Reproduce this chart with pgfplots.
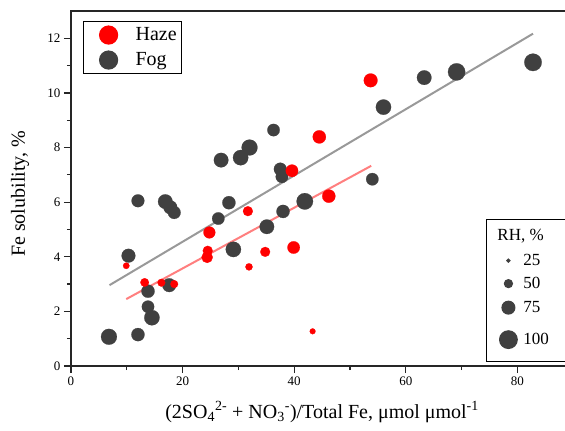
\documentclass[border=0pt]{standalone}
\usepackage{pgfplots}
\usepackage{pgfplotstable}
\pgfplotsset{compat=1.18}
\usepackage{fontspec}
\setmainfont{Liberation Serif}

\definecolor{fogc}{RGB}{64,64,64}
\definecolor{hazec}{RGB}{255,0,0}

% x = (2SO4 + NO3)/Fe, y = Fe solubility (%), rh = relative humidity (%)
\pgfplotstableread{
x y rh
6.8 1.07 92
12.0 1.15 78
10.3 4.04 81
12.0 6.05 76
16.9 6.02 85
17.8 5.81 81
18.5 5.62 76
13.8 2.74 78
17.6 2.96 81
13.8 2.17 74
14.5 1.77 89
26.4 5.40 74
28.3 5.98 78
29.1 4.27 89
35.1 5.10 85
38.0 5.66 78
41.9 6.03 95
36.3 8.64 74
26.9 7.54 85
30.4 7.63 89
32.0 8.00 92
37.5 7.21 76
37.8 6.93 74
54.0 6.84 74
56.0 9.48 89
63.3 10.56 85
69.1 10.77 99
82.8 11.12 100
}\fogdata

\pgfplotstableread{
x y rh
9.9 3.67 43
13.2 3.06 54
16.2 3.05 50
18.5 3.00 50
24.8 4.89 71
24.5 4.22 61
24.4 3.98 68
31.7 5.67 61
31.9 3.63 47
34.8 4.18 61
39.9 4.34 74
39.6 7.15 74
44.5 8.39 78
46.2 6.22 78
53.7 10.46 81
43.3 1.27 40
}\hazedata

\pgfplotsset{
  bubble/.style={scatter, only marks, mark=*, forget plot,
    mark options={draw=#1, fill=#1, line width=0.2pt},
    visualization depends on={\thisrow{rh} \as \rh},
    scatter/@pre marker code/.code={\pgfmathsetmacro\ms{0.097*\rh-1.0}\pgfsetplotmarksize{\ms pt}},
    scatter/@post marker code/.code={}},
  sizekey/.style 2 args={legend image code/.code={
    \path[draw=none, fill=none] (0pt,-#2) rectangle (33pt,#2);
    \fill[fogc] (18pt,0pt) circle[radius=#1];}},
}

\begin{document}
\begin{tikzpicture}
\useasboundingbox (-71pt,-65pt) rectangle (494pt,366pt);
\begin{axis}[
    scale only axis,
    width=502.2pt, height=355pt,
    xmin=0, xmax=90, ymin=0, ymax=13,
    xtick={0,20,...,80}, minor xtick={10,30,50,70},
    ytick={0,2,...,12}, minor ytick={1,3,...,11},
    tick pos=left, tick align=outside,
    major tick length=7pt, minor tick length=4pt,
    axis line style={line width=1.2pt, draw=black!85},
    tick style={line width=1.2pt, black!85},
    ticklabel style={font=\fontsize{13}{15}\selectfont},
    /pgf/number format/assume math mode=true,
    label style={font=\fontsize{20}{24}\selectfont},
    xlabel={(2SO\textsubscript{4}\textsuperscript{2-} + NO\textsubscript{3}\textsuperscript{-})/Total Fe, μmol μmol\textsuperscript{-1}},
    ylabel={Fe solubility, \%},
    xlabel style={at={(axis description cs:0.5,-0.13)}, anchor=center},
    ylabel style={at={(axis description cs:-0.1016,0.485)}, anchor=center},
    legend cell align=left,
    legend style={at={(0.0239,0.972)}, anchor=north west,
        draw=black, line width=1.2pt, inner xsep=5pt, inner ysep=1pt,
        row sep=0pt, column sep=0pt,
        nodes={draw=none, inner sep=0pt, font=\fontsize{20}{24}\selectfont}},
]
\addplot[bubble=fogc] table[x=x, y=y] {\fogdata};
\addplot[bubble=hazec] table[x=x, y=y] {\hazedata};
% linear fits
\addplot[black, opacity=0.4, line width=2pt, forget plot] coordinates {(6.9,2.96) (82.8,12.17)};
\addplot[hazec, opacity=0.5, line width=2pt, forget plot] coordinates {(9.9,2.45) (53.8,7.33)};

\addlegendimage{legend image code/.code={\path[draw=none, fill=none] (0pt,-12.5pt) rectangle (47pt,12.5pt); \fill[hazec] (20pt,0pt) circle[radius=9pt];}}
\addlegendentry{Haze}
\addlegendimage{legend image code/.code={\path[draw=none, fill=none] (0pt,-12.5pt) rectangle (47pt,12.5pt); \fill[fogc] (20pt,0pt) circle[radius=9pt];}}
\addlegendentry{Fog}
\end{axis}

% size legend
\begin{axis}[
    scale only axis,
    width=502.2pt, height=355pt,
    hide axis, xmin=0, xmax=1, ymin=0, ymax=1,
    legend cell align=left,
    legend style={at={(0.826,0.414)}, anchor=north west,
        draw=black, line width=1.2pt, inner xsep=4pt, inner ysep=2pt,
        row sep=0pt, column sep=0pt,
        nodes={draw=none, inner sep=0pt, font=\fontsize{17}{20}\selectfont}},
]
\addlegendimage{sizekey={0pt}{14pt}}
\addlegendentry{\makebox[80pt][l]{\hspace*{-26pt}RH, \%}}
\addlegendimage{sizekey={1.5pt}{11pt}}
\addlegendentry{25}
\addlegendimage{sizekey={4pt}{12pt}}
\addlegendentry{50}
\addlegendimage{sizekey={6.4pt}{12pt}}
\addlegendentry{75}
\addlegendimage{sizekey={8.8pt}{20pt}}
\addlegendentry{100}
\end{axis}
\end{tikzpicture}
\end{document}
